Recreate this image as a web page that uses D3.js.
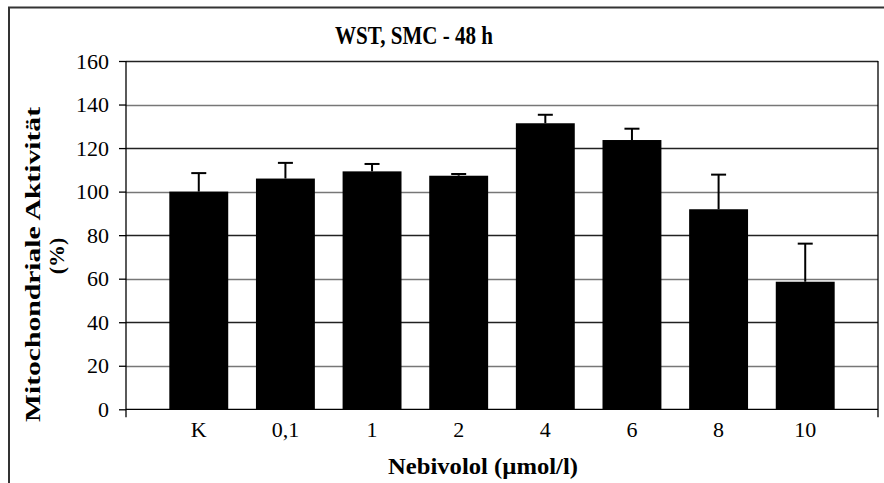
<!DOCTYPE html>
<html><head><meta charset="utf-8">
<script src="https://cdn.jsdelivr.net/npm/d3@7"></script>
<style>body{margin:0;background:#fff;} svg{display:block;}</style>
</head><body>
<svg id="chart" width="884" height="483"></svg>
<script>
const categories = ["K", "0,1", "1", "2", "4", "6", "8", "10"];
const values = [100, 106, 109.3, 107.3, 131.4, 123.7, 91.9, 58.6];
const errors = [8.5, 7.2, 3.4, 0.8, 3.9, 5.2, 15.9, 17.5];
const yTicks = [0, 20, 40, 60, 80, 100, 120, 140, 160];
const title = "WST, SMC - 48 h";
const xTitle = "Nebivolol (µmol/l)";
const yTitle = ["Mitochondriale Aktivität", "(%)"];

const svg = d3.select("#chart");
const font = "'Liberation Serif', 'Times New Roman', serif";
const m = {left: 126, right: 878, top: 61, bottom: 409.3};

// outer frame
svg.append("path").attr("d", `M9,490 L9,7.5 L890,7.5`).attr("fill", "none")
  .attr("stroke", "#333").attr("stroke-width", 2);

const x = d3.scaleBand().domain(categories).range([m.left, m.right])
  .paddingInner(0.32).paddingOuter(0.5);
const y = d3.scaleLinear().domain([0, 160]).range([m.bottom, m.top]);

// gridlines
svg.append("g").selectAll("line").data(yTicks.filter(d => d > 0)).join("line")
  .attr("x1", m.left).attr("x2", m.right)
  .attr("y1", d => Math.round(y(d)) + 0.5).attr("y2", d => Math.round(y(d)) + 0.5)
  .attr("stroke", (d, i) => i % 2 === 0 ? "#777" : "#222").attr("stroke-width", 1.3);

// right border of plot
svg.append("line").attr("x1", m.right).attr("x2", m.right)
  .attr("y1", m.top).attr("y2", m.bottom + 8).attr("stroke", "#000").attr("stroke-width", 1.3);

// bars
svg.append("g").selectAll("rect").data(values).join("rect")
  .attr("x", (d, i) => x(categories[i])).attr("width", x.bandwidth())
  .attr("y", d => y(d)).attr("height", d => y(0) - y(d)).attr("fill", "#000");

// error bars
const eg = svg.append("g").attr("stroke", "#000").attr("stroke-width", 2);
values.forEach((v, i) => {
  const cx = x(categories[i]) + x.bandwidth() / 2;
  eg.append("line").attr("x1", cx).attr("x2", cx).attr("y1", y(v)).attr("y2", y(v + errors[i]));
  eg.append("line").attr("x1", cx - 7.5).attr("x2", cx + 7.5).attr("y1", y(v + errors[i])).attr("y2", y(v + errors[i]));
});

// y axis
const yAxis = d3.axisLeft(y).tickValues(yTicks).tickSize(7).tickPadding(10);
const yg = svg.append("g").attr("transform", `translate(${m.left},0)`).call(yAxis);
yg.select(".domain").attr("d", `M0,${m.top}V${m.bottom + 8}`).attr("stroke", "#000").attr("stroke-width", 1.3);
yg.selectAll(".tick line").attr("stroke", "#000").attr("stroke-width", 1.3);
yg.selectAll("text").attr("font-family", font).attr("font-size", 22).attr("fill", "#000");

// x axis
const xAxis = d3.axisBottom(x).tickSize(0).tickPadding(12);
const xg = svg.append("g").attr("transform", `translate(0,${m.bottom})`).call(xAxis);
xg.select(".domain").attr("d", `M${m.left},0H${m.right}`).attr("stroke", "#000").attr("stroke-width", 1.3);
xg.selectAll("text").attr("font-family", font).attr("font-size", 22).attr("fill", "#000");

// titles
svg.append("text").attr("x", 414).attr("y", 44).attr("text-anchor", "middle")
  .attr("font-family", font).attr("font-weight", "bold").attr("font-size", 25)
  .attr("textLength", 158).attr("lengthAdjust", "spacingAndGlyphs").text(title);
svg.append("text").attr("x", 483).attr("y", 474).attr("text-anchor", "middle")
  .attr("font-family", font).attr("font-weight", "bold").attr("font-size", 23)
  .attr("textLength", 190).attr("lengthAdjust", "spacingAndGlyphs").text(xTitle);
svg.append("text").attr("transform", "translate(40,264.5) rotate(-90)")
  .attr("text-anchor", "middle").attr("font-family", font).attr("font-weight", "bold").attr("font-size", 22)
  .attr("textLength", 315).attr("lengthAdjust", "spacingAndGlyphs").text(yTitle[0]);
svg.append("text").attr("transform", "translate(64,256) rotate(-90)")
  .attr("text-anchor", "middle").attr("font-family", font).attr("font-weight", "bold").attr("font-size", 22)
  .text(yTitle[1]);
</script>
</body></html>
